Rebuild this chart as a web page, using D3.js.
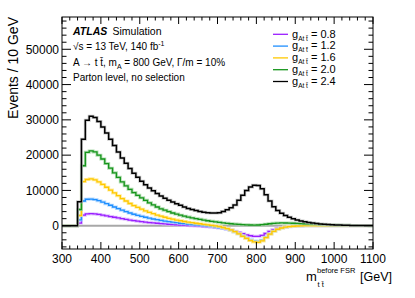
<!DOCTYPE html>
<html>
<head>
<meta charset="utf-8">
<script src="https://cdn.jsdelivr.net/npm/d3@7"></script>
<style>
  html, body { margin: 0; padding: 0; background: #fff; }
  svg { display: block; font-family: "Liberation Sans", Arial, Helvetica, sans-serif; }
</style>
</head>
<body>
<svg id="chart" width="415" height="298"></svg>
<script>
// lower edges of the 10 GeV bins, 300 -> 1090
const binEdges = d3.range(300, 1100, 10);

const couplings = ["0.8", "1.2", "1.6", "2.0", "2.4"];
const lineColors = ["#9a1eff", "#1f8fff", "#ffc800", "#16951c", "#000000"];
const haloColors = ["#d9b3ff", "#a9d3ff", "#ffe88a", "#9fd59f", "#bdbdbd"];

// Events / 10 GeV, one value per bin
const gAtt08 = [
  0, 0, 0, 0, 750, 3000, 3350, 3400, 3350, 3200,
  3000, 2800, 2600, 2400, 2200, 2000, 1800, 1600, 1450, 1300,
  1150, 1000, 900, 800, 700, 600, 500, 420, 340, 270,
  200, 130, 60, 0, -70, -150, -230, -320, -420, -530,
  -660, -800, -1000, -1250, -1550, -1900, -2250, -2600, -2850, -3000,
  -3000, -2750, -2200, -1600, -1100, -750, -500, -330, -220, -140,
  -90, -50, -25, -10, 0, 0, 0, 0, 0, 0,
  0, 0, 0, 0, 0, 0, 0, 0, 0, 0
];
const gAtt12 = [
  0, 0, 0, 0, 1650, 7000, 7500, 7550, 7400, 7100,
  6700, 6250, 5800, 5300, 4850, 4400, 4000, 3600, 3250, 2950,
  2650, 2400, 2150, 1900, 1700, 1500, 1300, 1150, 1000, 850,
  700, 580, 460, 350, 250, 150, 50, -50, -200, -350,
  -500, -700, -950, -1300, -1750, -2250, -2850, -3450, -3950, -4350,
  -4450, -4100, -3250, -2300, -1550, -1000, -650, -420, -270, -170,
  -100, -50, -20, 0, 0, 0, 0, 0, 0, 0,
  0, 0, 0, 0, 0, 0, 0, 0, 0, 0
];
const gAtt16 = [
  0, 0, 0, 0, 2900, 12500, 13100, 13300, 13000, 12400,
  11700, 10900, 10100, 9300, 8500, 7700, 7000, 6300, 5700, 5200,
  4700, 4200, 3800, 3400, 3000, 2700, 2400, 2100, 1850, 1600,
  1400, 1200, 1000, 850, 700, 550, 400, 250, 100, -50,
  -250, -500, -800, -1200, -1700, -2300, -3000, -3600, -4200, -4600,
  -4700, -4300, -3400, -2400, -1600, -1000, -650, -400, -250, -150,
  -80, -30, 0, 0, 0, 0, 0, 0, 0, 0,
  0, 0, 0, 0, 0, 0, 0, 0, 0, 0
];
const gAtt20 = [
  0, 0, 0, 0, 4600, 17000, 20800, 21200, 20900, 20000,
  18900, 17600, 16300, 15000, 13700, 12400, 11300, 10300, 9400, 8600,
  7900, 7200, 6500, 5900, 5300, 4800, 4400, 4000, 3600, 3300,
  3000, 2700, 2450, 2200, 2000, 1800, 1600, 1400, 1250, 1100,
  950, 800, 680, 560, 460, 380, 300, 240, 200, 180,
  200, 280, 420, 560, 680, 750, 780, 770, 740, 700,
  650, 600, 550, 500, 440, 390, 340, 290, 250, 210,
  180, 150, 120, 100, 80, 60, 50, 40, 30, 20
];
const gAtt24 = [
  0, 0, 0, 0, 6800, 24500, 29900, 31000, 30700, 29500,
  28000, 26300, 24500, 22700, 20900, 19200, 17700, 16200, 14900, 13700,
  12600, 11600, 10700, 9900, 9100, 8400, 7800, 7200, 6700, 6200,
  5800, 5300, 4900, 4600, 4300, 4000, 3800, 3700, 3600, 3600,
  3700, 4000, 4500, 5100, 5900, 7200, 8600, 10000, 11000, 11500,
  11400, 10500, 8800, 7000, 5400, 4300, 3500, 2900, 2400, 2000,
  1650, 1350, 1100, 900, 750, 620, 500, 400, 320, 260,
  210, 170, 140, 110, 90, 70, 55, 45, 35, 25
];
const seriesValues = [gAtt08, gAtt12, gAtt16, gAtt20, gAtt24];

const xTickValues = [300, 400, 500, 600, 700, 800, 900, 1000, 1100];
const yTickValues = [0, 10000, 20000, 30000, 40000, 50000];

const svg = d3.select("#chart");
const margin = { left: 62, right: 42, top: 17, bottom: 49 };
const W = 415, H = 298;
const x0 = margin.left, x1 = W - margin.right;
const y0 = H - margin.bottom, y1 = margin.top;

const xS = d3.scaleLinear([300, 1100], [x0, x1]);
const yS = d3.scaleLinear([-6600, 59150], [y0, y1]);

svg.append("defs").append("clipPath").attr("id", "plot-clip")
  .append("rect").attr("x", x0).attr("y", y1).attr("width", x1 - x0).attr("height", y0 - y1);

// zero reference line
svg.append("line").attr("x1", x0).attr("x2", x1)
  .attr("y1", yS(0)).attr("y2", yS(0))
  .attr("stroke", "#a8a8a8").attr("stroke-width", 2);

// histograms, drawn as steps
const step = d3.line().x(d => xS(d[0])).y(d => yS(d[1])).curve(d3.curveStepAfter);
const plot = svg.append("g").attr("clip-path", "url(#plot-clip)");
seriesValues.forEach((vals, k) => {
  const pts = binEdges.map((e, i) => [e, vals[i]]);
  pts.push([1100, vals[vals.length - 1]]);
  plot.append("path").datum(pts).attr("d", step)
    .attr("fill", "none").attr("stroke", haloColors[k]).attr("stroke-width", 3).attr("opacity", 0.8);
  plot.append("path").datum(pts).attr("d", step)
    .attr("fill", "none").attr("stroke", lineColors[k])
    .attr("stroke-width", k === 4 ? 1.5 : 1.3);
});

// frame
svg.append("rect").attr("x", x0).attr("y", y1).attr("width", x1 - x0).attr("height", y0 - y1)
  .attr("fill", "none").attr("stroke", "#000").attr("stroke-width", 1);

// ticks on all four sides, pointing inward
const ax = svg.append("g").attr("stroke", "#000").attr("stroke-width", 1);
for (let v = 300; v <= 1100; v += 20) {
  const major = v % 100 === 0;
  const len = major ? 7 : 3.5;
  ax.append("line").attr("x1", xS(v)).attr("x2", xS(v)).attr("y1", y0).attr("y2", y0 - len);
  ax.append("line").attr("x1", xS(v)).attr("x2", xS(v)).attr("y1", y1).attr("y2", y1 + len);
}
for (let v = -6000; v <= 58000; v += 2000) {
  const major = v % 10000 === 0;
  const len = major ? 9 : 4.5;
  ax.append("line").attr("y1", yS(v)).attr("y2", yS(v)).attr("x1", x0).attr("x2", x0 + len);
  ax.append("line").attr("y1", yS(v)).attr("y2", yS(v)).attr("x1", x1).attr("x2", x1 - len);
}

// tick labels
xTickValues.forEach(v => {
  svg.append("text").attr("x", xS(v)).attr("y", y0 + 13.5)
    .attr("text-anchor", "middle").attr("font-size", 12).attr("fill", "#000").text(v);
});
yTickValues.forEach(v => {
  svg.append("text").attr("x", x0 - 3).attr("y", yS(v) + 4.3)
    .attr("text-anchor", "end").attr("font-size", 12).attr("fill", "#000").text(v);
});

// axis titles
svg.append("text")
  .attr("transform", `translate(18, ${y1}) rotate(-90)`)
  .attr("text-anchor", "end").attr("font-size", 14).attr("fill", "#000")
  .text("Events / 10 GeV");

// x title: m_{tt}^{before FSR} [GeV]
const xTitle = svg.append("g").attr("fill", "#000");
xTitle.append("text").attr("x", 306).attr("y", 281).attr("font-size", 13).text("m");
xTitle.append("text").attr("x", 317).attr("y", 273).attr("font-size", 7.5).text("before FSR");
xTitle.append("text").attr("x", 317.5).attr("y", 287).attr("font-size", 7.5).text("t t\u0304");
xTitle.append("text").attr("x", 392).attr("y", 281).attr("text-anchor", "end")
  .attr("font-size", 12.5).text("[GeV]");

// ATLAS label block
const lab = svg.append("g").attr("fill", "#000");
const atl = lab.append("text").attr("x", 73).attr("y", 35).attr("font-size", 10.5);
atl.append("tspan").attr("font-weight", "bold").attr("font-style", "italic").text("ATLAS");
atl.append("tspan").text("\u2002Simulation");

const t1 = lab.append("text").attr("x", 73).attr("y", 50).attr("font-size", 10);
t1.append("tspan").text("\u221As = 13 TeV, 140 fb");
t1.append("tspan").attr("font-size", 7).attr("dy", -4).text("-1");

const t2 = lab.append("text").attr("x", 73).attr("y", 66).attr("font-size", 10);
t2.append("tspan").text("A \u2192 t t\u0304, m");
t2.append("tspan").attr("font-size", 7).attr("dy", 2.5).text("A");
t2.append("tspan").attr("dy", -2.5).text(" = 800 GeV, \u0393/m = 10%");

lab.append("text").attr("x", 73).attr("y", 81).attr("font-size", 10).text("Parton level, no selection");

// legend
const legRowY = [34.3, 46.1, 57.9, 69.7, 81.5];
couplings.forEach((c, k) => {
  const yy = legRowY[k];
  svg.append("line").attr("x1", 273).attr("x2", 288).attr("y1", yy).attr("y2", yy)
    .attr("stroke", lineColors[k]).attr("stroke-width", 1.3);
  const t = svg.append("text").attr("x", 292).attr("y", yy + 3.3).attr("font-size", 11).attr("fill", "#000");
  t.append("tspan").text("g");
  t.append("tspan").attr("font-size", 6.5).attr("dy", 3).text("At t\u0304");
  t.append("tspan").attr("dy", -3).text(" = " + c);
});
</script>
</body>
</html>
